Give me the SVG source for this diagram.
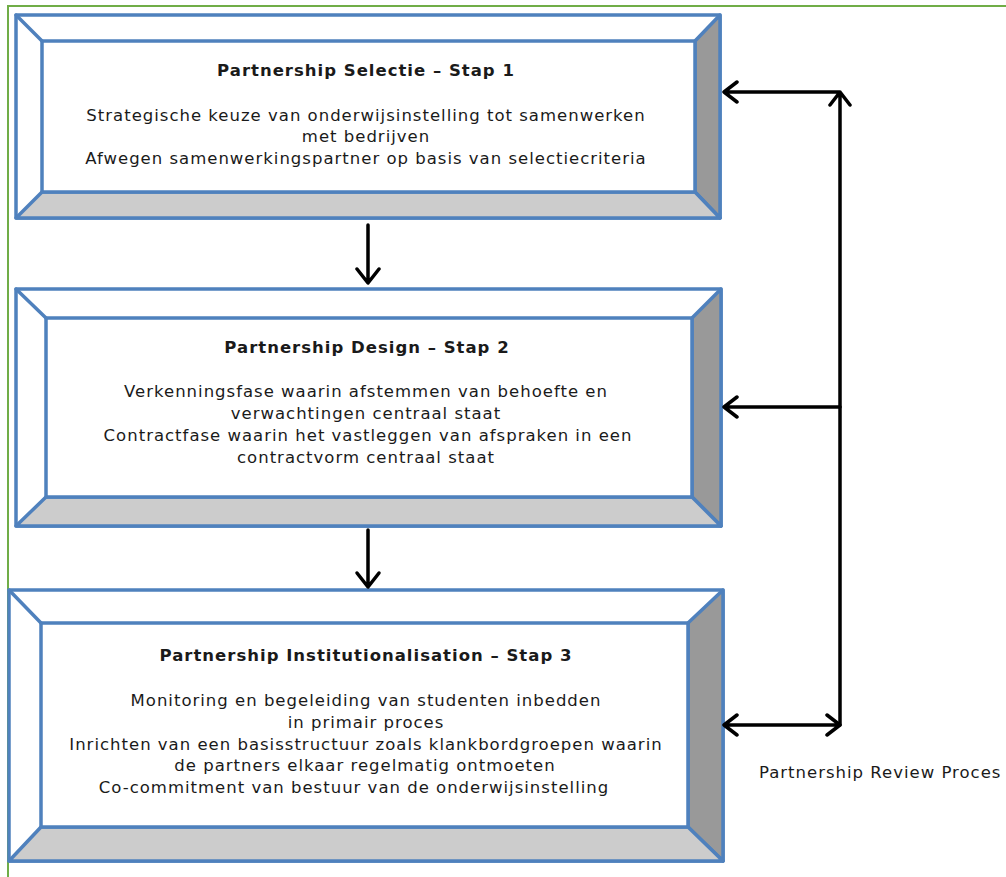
<svg xmlns="http://www.w3.org/2000/svg" width="1006" height="877" viewBox="0 0 1006 877">
<style>
.frame{fill:none;stroke:#70ad47;stroke-width:2}
.edge{stroke:#4f81bd;stroke-width:3.5;stroke-linejoin:round;stroke-linecap:round}
.face{fill:#ffffff}
.rb{fill:#999999}
.bb{fill:#cccccc}
.t{font-family:"DejaVu Sans",Verdana,sans-serif;font-size:16.5px;letter-spacing:1px;fill:#1a1a1a;text-anchor:middle}
.h{font-weight:bold}
.c{fill:none;stroke:#000;stroke-width:3.5;stroke-linecap:round;stroke-linejoin:round}
</style>
<rect x="0" y="0" width="1006" height="877" fill="#ffffff"/>
<path class="frame" d="M8,877 V6 H1006"/>

<g id="node-stap1">
<rect class="edge face" x="16" y="15" width="704" height="203"/>
<polygon class="edge rb" points="720,15 695,41 695,192 720,218"/>
<polygon class="edge bb" points="16,218 42,192 695,192 720,218"/>
<rect class="edge face" x="42" y="41" width="653" height="151"/>
<path class="edge" d="M16,15 L42,41"/>
<text class="t h" x="366" y="76">Partnership Selectie – Stap 1</text>
<text class="t" x="366" y="121">Strategische keuze van onderwijsinstelling tot samenwerken</text>
<text class="t" x="366" y="142">met bedrijven</text>
<text class="t" x="366" y="164">Afwegen samenwerkingspartner op basis van selectiecriteria</text>
</g>

<g id="node-stap2">
<rect class="edge face" x="16" y="289" width="705" height="237"/>
<polygon class="edge rb" points="721,289 692,318 692,497 721,526"/>
<polygon class="edge bb" points="16,526 46,497 692,497 721,526"/>
<rect class="edge face" x="46" y="318" width="646" height="179"/>
<path class="edge" d="M16,289 L46,318"/>
<text class="t h" x="367" y="353">Partnership Design – Stap 2</text>
<text class="t" x="366" y="397">Verkenningsfase waarin afstemmen van behoefte en</text>
<text class="t" x="366" y="419">verwachtingen centraal staat</text>
<text class="t" x="368" y="441">Contractfase waarin het vastleggen van afspraken in een</text>
<text class="t" x="366" y="463">contractvorm centraal staat</text>
</g>

<g id="node-stap3">
<rect class="edge face" x="9" y="590" width="714" height="271"/>
<polygon class="edge rb" points="723,590 688,623 688,827 723,861"/>
<polygon class="edge bb" points="9,861 41,827 688,827 723,861"/>
<rect class="edge face" x="41" y="623" width="647" height="204"/>
<path class="edge" d="M9,590 L41,623"/>
<text class="t h" x="366" y="661">Partnership Institutionalisation – Stap 3</text>
<text class="t" x="366" y="706">Monitoring en begeleiding van studenten inbedden</text>
<text class="t" x="366" y="728">in primair proces</text>
<text class="t" x="366" y="750">Inrichten van een basisstructuur zoals klankbordgroepen waarin</text>
<text class="t" x="365" y="771">de partners elkaar regelmatig ontmoeten</text>
<text class="t" x="354" y="793">Co-commitment van bestuur van de onderwijsinstelling</text>
</g>

<g id="connectors">
<path class="c" d="M368,225 V282 M357,269 L368,283 L379,269"/>
<path class="c" d="M368,530 V586 M357,573 L368,587 L379,573"/>
<path class="c" d="M840,725 V92 H724 M737,82 L724,92 L737,102 M830,105 L840,92 L850,105"/>
<path class="c" d="M840,407 H724 M737,397 L724,407 L737,417"/>
<path class="c" d="M724,725 H840 M737,715 L724,725 L737,735 M827,715 L840,725 L827,735"/>
</g>

<text class="t" x="759" y="778" style="text-anchor:start">Partnership Review Proces</text>
</svg>
